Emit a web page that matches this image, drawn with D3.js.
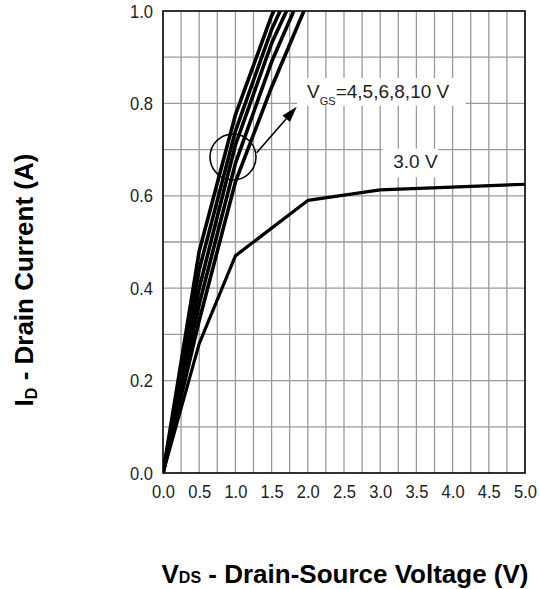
<!DOCTYPE html>
<html lang="en">
  <head>
    <meta charset="UTF-8" />
    <title>Output Characteristics</title>
    <style>
      body { margin: 0; background: #fff; }
      text { font-family: Arial, "Liberation Sans", sans-serif; }
    </style>
  </head>
  <body>
    <svg width="540" height="589"></svg>

    <script src="https://d3js.org/d3.v7.min.js"></script>
    <script>
      // VDS sample points and drain current for each gate voltage
      const vds = [0, 0.5, 1.0, 1.5, 2.0];
      const id10V = [0, 0.48, 0.775, 0.99, 1.15];
      const id8V = [0, 0.44, 0.74, 0.96, 1.13];
      const id6V = [0, 0.40, 0.71, 0.93, 1.10];
      const id5V = [0, 0.365, 0.67, 0.89, 1.07];
      const id4V = [0, 0.33, 0.63, 0.835, 1.02];

      const vds3V = [0, 0.5, 1.0, 2.0, 3.0, 5.0];
      const id3V = [0, 0.28, 0.47, 0.59, 0.613, 0.625];

      const xTicks = [0, 0.5, 1, 1.5, 2, 2.5, 3, 3.5, 4, 4.5, 5];
      const yTicks = [0, 0.2, 0.4, 0.6, 0.8, 1.0];

      const svg = d3.select("svg");
      const margin = { left: 163, top: 11 };
      const w = 362;
      const h = 462;

      const x = d3.scaleLinear().domain([0, 5]).range([0, w]);
      const y = d3.scaleLinear().domain([0, 1]).range([h, 0]);

      const g = svg.append("g").attr("transform", `translate(${margin.left},${margin.top})`);

      g.append("clipPath").attr("id", "plot")
        .append("rect").attr("width", w).attr("height", h);

      // grid: every 0.25 V and 0.1 A
      g.append("g")
        .selectAll("line")
        .data(d3.range(1, 20).map(i => i * 0.25))
        .join("line")
        .attr("x1", d => x(d)).attr("x2", d => x(d))
        .attr("y1", 0).attr("y2", h)
        .attr("stroke", "#9a9a9a").attr("stroke-width", 1.3);
      g.append("g")
        .selectAll("line")
        .data(d3.range(1, 10).map(i => i * 0.1))
        .join("line")
        .attr("x1", 0).attr("x2", w)
        .attr("y1", d => y(d)).attr("y2", d => y(d))
        .attr("stroke", "#9a9a9a").attr("stroke-width", 1.3);

      // label backgrounds (they hide the grid)
      g.append("rect")
        .attr("x", x(1.85)).attr("y", y(0.855))
        .attr("width", x(2.33)).attr("height", y(0.795) - y(0.855))
        .attr("fill", "#fff");
      g.append("rect")
        .attr("x", x(3.03)).attr("y", y(0.702))
        .attr("width", x(0.77)).attr("height", y(0.64) - y(0.702))
        .attr("fill", "#fff");

      const line = d3.line().x(d => x(d[0])).y(d => y(d[1]));

      const curves = [id4V, id5V, id6V, id8V, id10V].map(s => d3.zip(vds, s));

      const plot = g.append("g").attr("clip-path", "url(#plot)");
      plot.selectAll("path.vgs")
        .data(curves)
        .join("path")
        .attr("class", "vgs")
        .attr("d", line)
        .attr("fill", "none")
        .attr("stroke", "#000")
        .attr("stroke-width", 3.6)
        .attr("stroke-linejoin", "round");

      plot.append("path")
        .datum(d3.zip(vds3V, id3V))
        .attr("d", line)
        .attr("fill", "none")
        .attr("stroke", "#000")
        .attr("stroke-width", 3.2)
        .attr("stroke-linejoin", "round");

      // frame
      g.append("rect").attr("width", w).attr("height", h)
        .attr("fill", "none").attr("stroke", "#000").attr("stroke-width", 1.6);

      // circle + arrow annotation
      g.append("circle")
        .attr("cx", x(0.967)).attr("cy", y(0.684)).attr("r", 23)
        .attr("fill", "none").attr("stroke", "#000").attr("stroke-width", 1.6);

      const ax1 = x(1.294), ay1 = y(0.693), ax2 = x(1.847), ay2 = y(0.793);
      const ang = Math.atan2(ay2 - ay1, ax2 - ax1);
      const hl = 16, hw = 5;
      const bx = ax2 - hl * Math.cos(ang), by = ay2 - hl * Math.sin(ang);
      g.append("line")
        .attr("x1", ax1).attr("y1", ay1)
        .attr("x2", bx).attr("y2", by)
        .attr("stroke", "#000").attr("stroke-width", 1.6);
      g.append("path")
        .attr("d", `M${ax2},${ay2}L${bx + hw * Math.sin(ang)},${by - hw * Math.cos(ang)}L${bx - hw * Math.sin(ang)},${by + hw * Math.cos(ang)}Z`)
        .attr("fill", "#000");

      const vgsLabel = g.append("text")
        .attr("x", x(1.99)).attr("y", y(0.812))
        .attr("font-size", 19).attr("fill", "#222");
      vgsLabel.append("tspan").text("V");
      vgsLabel.append("tspan").attr("font-size", 11).attr("dy", 7).text("GS");
      vgsLabel.append("tspan").attr("dy", -7).text("=4,5,6,8,10 V");

      g.append("text")
        .attr("x", x(3.18)).attr("y", y(0.66))
        .attr("font-size", 19).attr("fill", "#222")
        .text("3.0 V");

      // axes
      const xAxis = g.append("g")
        .attr("transform", `translate(0,${h})`)
        .call(d3.axisBottom(x).tickValues(xTicks).tickSize(0).tickPadding(12).tickFormat(d3.format(".1f")));
      const yAxis = g.append("g")
        .call(d3.axisLeft(y).tickValues(yTicks).tickSize(0).tickPadding(10).tickFormat(d3.format(".1f")));
      [xAxis, yAxis].forEach(a => {
        a.select(".domain").remove();
        a.selectAll("text")
          .attr("font-size", 19)
          .attr("font-family", "Arial, 'Liberation Sans', sans-serif")
          .attr("fill", "#222")
          .attr("textLength", 23)
          .attr("lengthAdjust", "spacingAndGlyphs");
      });

      // axis titles
      const xt = svg.append("text")
        .attr("x", 345).attr("y", 583)
        .attr("text-anchor", "middle")
        .attr("font-size", 26).attr("font-weight", "bold").attr("fill", "#000");
      xt.append("tspan").text("V");
      xt.append("tspan").attr("font-size", 16).text("DS");
      xt.append("tspan").text(" - Drain-Source Voltage (V)");

      const yt = svg.append("text")
        .attr("transform", "translate(33,280) rotate(-90)")
        .attr("text-anchor", "middle")
        .attr("font-size", 26).attr("font-weight", "bold").attr("fill", "#000");
      yt.append("tspan").text("I");
      yt.append("tspan").attr("font-size", 16).attr("dy", 4).text("D");
      yt.append("tspan").attr("dy", -4).text(" - Drain Current (A)");
    </script>
  </body>
</html>
